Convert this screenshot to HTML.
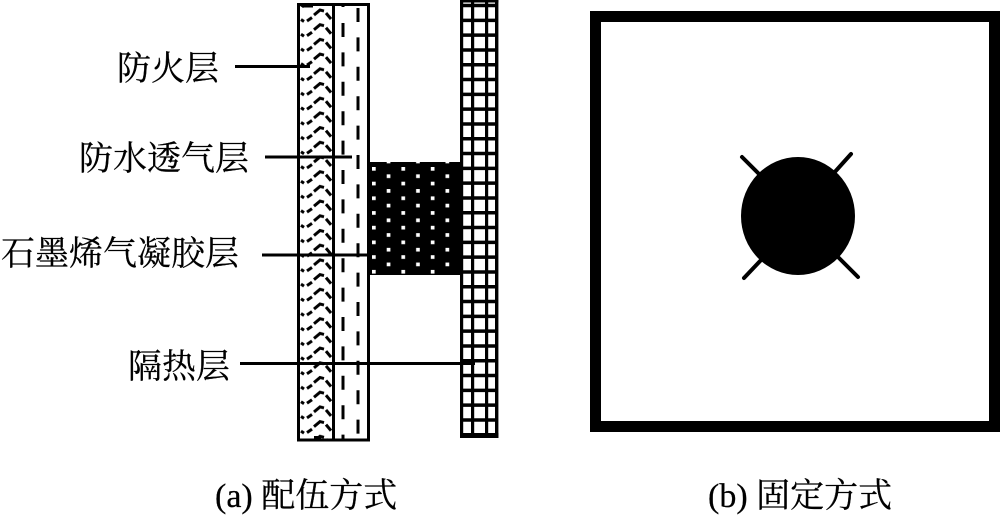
<!DOCTYPE html>
<html><head><meta charset="utf-8"><style>
html,body{margin:0;padding:0;background:#fff}
svg{display:block}
.c{font-family:"Liberation Serif","Noto Serif CJK SC",serif;font-size:34px;fill:#000;stroke:#000;stroke-width:.25}
</style></head><body>
<svg width="1000" height="519" viewBox="0 0 1000 519" xmlns="http://www.w3.org/2000/svg">
<defs>
<pattern id="w" patternUnits="userSpaceOnUse" x="299" y="8" width="34" height="14.7">
<path d="M2 11.5 L5 13.5 M8 13 L13 9.5 M15 7 L21 2 L25 3 M27 5 L32 11" fill="none" stroke="#000" stroke-width="3"/>
</pattern>
<pattern id="d" patternUnits="userSpaceOnUse" x="372" y="167" width="29.4" height="14.7">
<rect x="0" y="0" width="3.7" height="3.7" fill="#fff"/>
<rect x="14.7" y="7.35" width="3.7" height="3.7" fill="#fff"/>
</pattern>
</defs>
<rect width="1000" height="519" fill="#fff"/>
<!-- left layers -->
<rect x="298.5" y="4.5" width="34.5" height="435.5" fill="url(#w)"/>
<line x1="343" y1="3" x2="343" y2="7" stroke="#000" stroke-width="3"/>
<line x1="343" y1="23" x2="343" y2="440" stroke="#000" stroke-width="3" stroke-dasharray="14 15.4"/>
<line x1="358" y1="8" x2="358" y2="440" stroke="#000" stroke-width="3" stroke-dasharray="14 15.4"/>
<rect x="298.5" y="4.5" width="70" height="435.5" fill="none" stroke="#000" stroke-width="3"/>
<line x1="333.5" y1="4" x2="333.5" y2="440" stroke="#000" stroke-width="3"/>
<rect x="303" y="5" width="10" height="2.5" fill="#000"/>
<rect x="314" y="436" width="7" height="4" fill="#000"/>
<!-- aerogel -->
<rect x="369" y="162" width="91" height="113" fill="#000"/>
<rect x="369" y="162" width="91" height="113" fill="url(#d)"/>
<!-- mesh -->
<rect x="460" y="0" width="38" height="438" fill="#fff"/>
<line x1="479" y1="3.8" x2="479" y2="434" stroke="#000" stroke-width="38" stroke-dasharray="3.5 11.3"/>
<rect x="460" y="0" width="3.2" height="438" fill="#000"/>
<rect x="471" y="0" width="3.2" height="438" fill="#000"/>
<rect x="485" y="0" width="3.2" height="438" fill="#000"/>
<rect x="495" y="0" width="3.4" height="438" fill="#000"/>
<rect x="460" y="433" width="38.4" height="5" fill="#000"/>
<rect x="460" y="0" width="38.4" height="2.5" fill="#000"/>
<!-- leaders -->
<g stroke="#000" stroke-width="3">
<line x1="235" y1="66.5" x2="310" y2="66.5"/>
<line x1="265" y1="157" x2="352" y2="157"/>
<line x1="262" y1="255" x2="372" y2="255"/>
<line x1="240" y1="363.5" x2="475" y2="363.5"/>
</g>
<!-- labels -->
<g class="c">
<text x="117" y="80">防火层</text>
<text x="79" y="170">防水透气层</text>
<text x="1" y="265">石墨烯气凝胶层</text>
<text x="128" y="378">隔热层</text>
</g>
<text class="c" x="215" y="507">(a) 配伍方式</text>
<text class="c" x="708" y="507">(b) 固定方式</text>
<!-- frame -->
<rect x="595.5" y="16.5" width="399" height="410" fill="none" stroke="#000" stroke-width="11"/>
<ellipse cx="798" cy="216" rx="57" ry="59" fill="#000"/>
<g stroke="#000" stroke-width="4" stroke-linecap="round">
<line x1="742" y1="157" x2="762" y2="177"/>
<line x1="851" y1="154" x2="833" y2="174"/>
<line x1="744" y1="278" x2="762" y2="259"/>
<line x1="858" y1="277" x2="838" y2="257"/>
</g>
</svg>
</body></html>
